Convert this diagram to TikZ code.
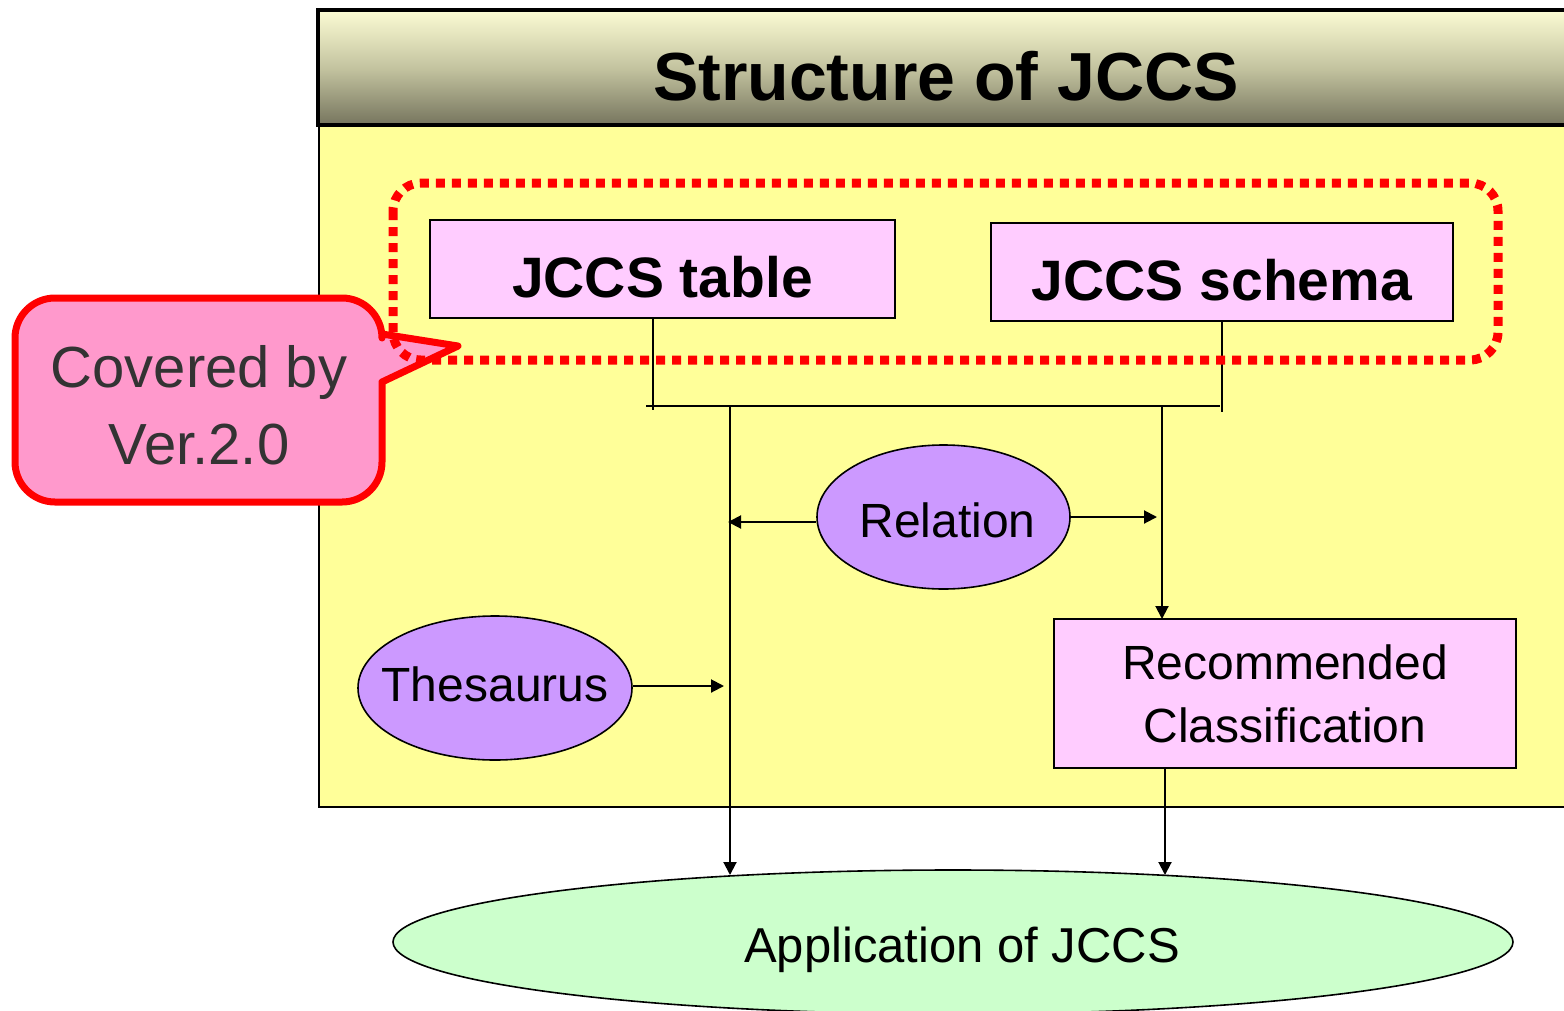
\documentclass[tikz,border=0pt]{standalone}
\usepackage{fontspec}
\setmainfont{Liberation Sans}
\usetikzlibrary{arrows.meta,shapes.geometric}
\definecolor{panel}{HTML}{FFFF99}
\definecolor{pinkbox}{HTML}{FFCCFF}
\definecolor{lilac}{HTML}{CC99FF}
\definecolor{mint}{HTML}{CCFFCC}
\definecolor{callfill}{HTML}{FF99CC}
\definecolor{calltext}{HTML}{333333}
\definecolor{bartop}{HTML}{FCFCD4}
\definecolor{barmid}{HTML}{C4C4A0}
\definecolor{barbot}{HTML}{76755E}
\newcommand{\zbox}[2]{\makebox[0pt]{\raisebox{#1}[0pt][0pt]{#2}}}
\tikzset{
  pbox/.style={draw=black,line width=2pt,fill=pinkbox,inner sep=0pt},
  oval/.style={ellipse,draw=black,line width=1.6pt,inner sep=0pt},
  conn/.style={draw=black,line width=2pt},
  arr/.style={conn,-{Triangle[length=13pt,width=13pt]}},
}
\begin{document}
\begin{tikzpicture}[x=1pt,y=-1pt]
\useasboundingbox (0,0) rectangle (1564,1010);
\clip (0,0) rectangle (1564,1010);
\fill[white] (0,0) rectangle (1564,1010);
% main panel
\draw[fill=panel,line width=2pt] (319,124) rectangle (1600,807);
% title bar
\shade[top color=bartop,bottom color=barbot,middle color=barmid] (318,10) rectangle (1600,125);
\draw[line width=4pt] (318,10) rectangle (1600,125);
\node[anchor=base,font=\fontsize{68}{80}\selectfont\bfseries] (title) at (946,100) {Structure of JCCS};

% boxes
\node[pbox,minimum width=465pt,minimum height=98pt,font=\fontsize{57}{60}\selectfont\bfseries] (tbl) at (662.5,269) {\zbox{-28pt}{JCCS table}};
\node[pbox,minimum width=462pt,minimum height=98pt,font=\fontsize{57}{60}\selectfont\bfseries] (sch) at (1222,272) {\zbox{-28pt}{JCCS schema}};
\node[pbox,minimum width=462pt,minimum height=149pt,align=center,font=\fontsize{48}{63}\selectfont] (rec) at (1285,693.5) {\raisebox{-3pt}{Recommended}\\\raisebox{-3pt}{Classification}};

% ellipses
\node[oval,fill=lilac,minimum width=253pt,minimum height=144pt,font=\fontsize{48}{56}\selectfont] (rel) at (943.5,517) {\zbox{-20pt}{\hspace*{8pt}Relation}};
\node[oval,fill=lilac,minimum width=274pt,minimum height=144pt,font=\fontsize{48}{56}\selectfont] (the) at (495,688) {\zbox{-13pt}{Thesaurus}};
\node[oval,fill=mint,minimum width=1120pt,minimum height=144pt,font=\fontsize{49}{56}\selectfont] (app) at (953,942) {\zbox{-20pt}{\hspace*{18pt}Application of JCCS}};

% bus coordinates
\coordinate (b1) at (653,410);
\coordinate (b2) at (1222,412);
\coordinate (hl) at (646,406);
\coordinate (hr) at (1220,406);
\coordinate (v1) at (730,406);
\coordinate (v2) at (1162,406);
\coordinate (rt) at (1162,619);
\coordinate (la) at (728,522);
\coordinate (ra) at (1157,517);
\coordinate (ta) at (724,686);
\coordinate (e1) at (730,875);
\coordinate (r1) at (1165,768);
\coordinate (e2) at (1165,875);

\draw[conn] (tbl.south -| b1) -- (b1);
\draw[conn] (sch.south -| b2) -- (b2);
\draw[conn] (hl) -- (hr);
\draw[arr] (v1) -- (e1);
\draw[arr] (v2) -- (rt);
\draw[arr] (rel.west |- la) -- (la);
\draw[arr] (rel.east |- ra) -- (ra);
\draw[arr] (the.east |- ta) -- (ta);
\draw[arr] (r1) -- (e2);

% callout
\draw[line width=7pt,draw=red,fill=callfill,line join=round]
  (15,340) [rounded corners=40pt] -- (15,298) -- (382,298) [sharp corners] -- (382,334)
  -- (458,346) -- (382,382) [rounded corners=40pt] -- (382,502) -- (15,502) [sharp corners] -- cycle;
\node[align=center,text=calltext,font=\fontsize{58}{77}\selectfont] (cov) at (199,405) {Covered by\\Ver.2.0};

% dotted region
\draw[red,line width=9pt,dash pattern=on 9pt off 7pt,rounded corners=28pt] (393,183) rectangle (1498,360);
\end{tikzpicture}
\end{document}
